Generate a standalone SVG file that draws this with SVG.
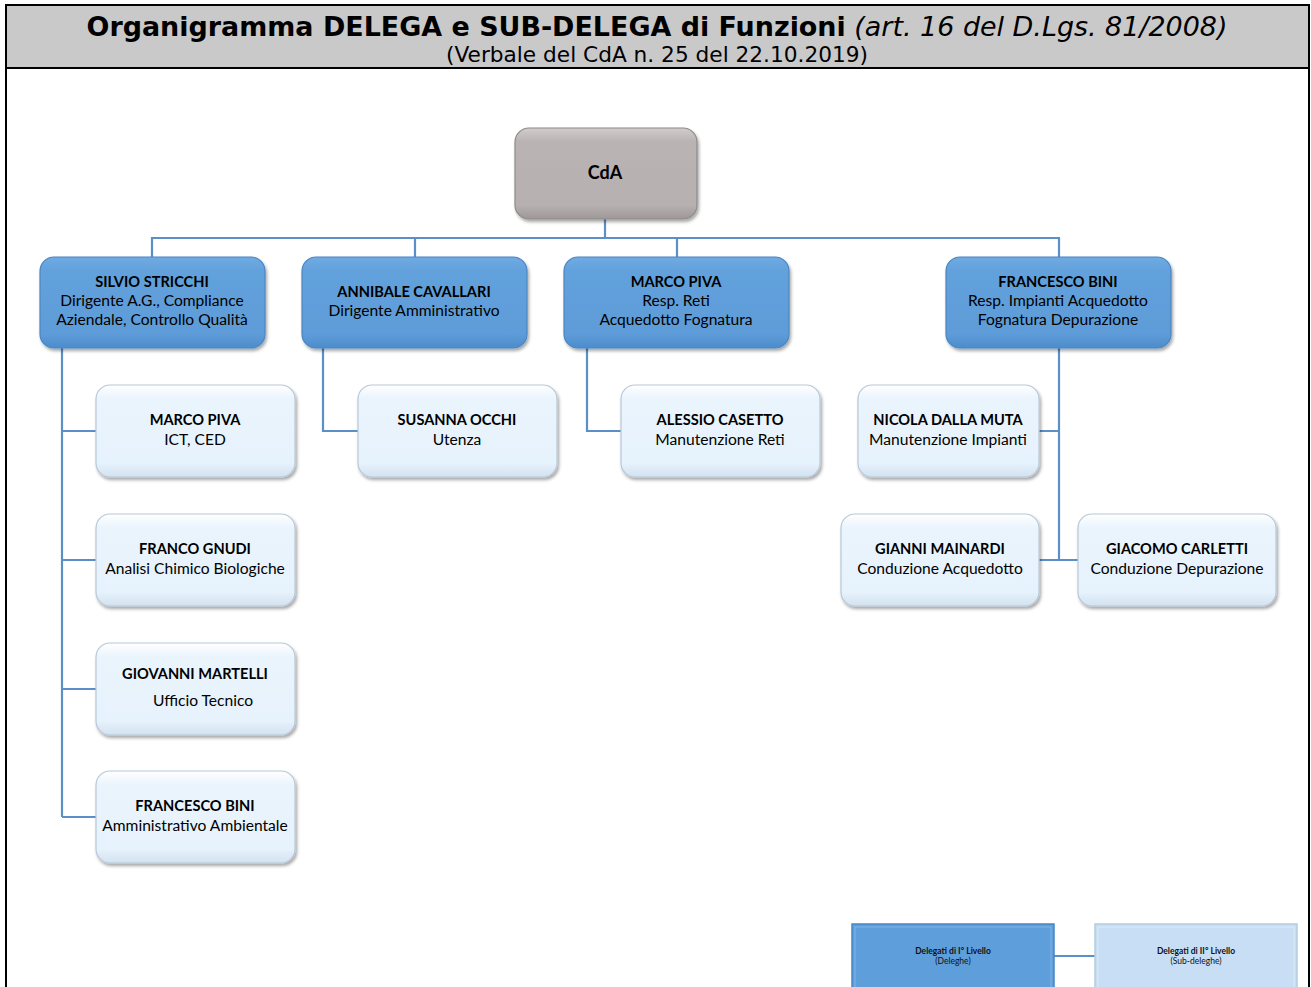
<svg xmlns="http://www.w3.org/2000/svg" width="1311" height="987" viewBox="0 0 1311 987">
<style>
.t{font-family:Lato,"Open Sans","Liberation Sans",sans-serif;font-size:15.6px;fill:#000;text-anchor:middle}
.b{font-weight:bold;font-size:14.6px}
.l1{fill:url(#gBlue);stroke:#4a86c4;stroke-width:1.2}
.l2{fill:url(#gLight);stroke:#b8c8d8;stroke-width:1.2}
.cn{stroke:#5b8fc7;stroke-width:2.2;fill:none}
.lg{font-family:Lato,"Open Sans","Liberation Sans",sans-serif;font-size:8.5px;fill:#111;text-anchor:middle}
</style>
<defs>
<linearGradient id="gBlue" x1="0" y1="0" x2="0" y2="1">
<stop offset="0" stop-color="#6fabe3"/><stop offset="0.15" stop-color="#62a1dc"/><stop offset="0.85" stop-color="#5d9cd8"/><stop offset="1" stop-color="#4d8ccb"/>
</linearGradient>
<linearGradient id="gLight" x1="0" y1="0" x2="0" y2="1">
<stop offset="0" stop-color="#ffffff"/><stop offset="0.15" stop-color="#eaf4fd"/><stop offset="0.85" stop-color="#e6f2fc"/><stop offset="1" stop-color="#d3e2f0"/>
</linearGradient>
<linearGradient id="gGray" x1="0" y1="0" x2="0" y2="1">
<stop offset="0" stop-color="#d2cdcd"/><stop offset="0.15" stop-color="#b9b3b3"/><stop offset="0.85" stop-color="#b6b0b0"/><stop offset="1" stop-color="#9e9797"/>
</linearGradient>
<filter id="sh" x="-10%" y="-10%" width="125%" height="130%">
<feDropShadow dx="1.5" dy="2.5" stdDeviation="1.5" flood-color="#000" flood-opacity="0.35"/>
</filter>
</defs>

<g id="header">
<rect x="6" y="5" width="1303" height="63" fill="#c9c9c9"/>
<path d="M6,987 V5 H1309 V987 M6,68 H1309" fill="none" stroke="#000" stroke-width="2"/>
<text x="657" y="36" text-anchor="middle" font-family="'DejaVu Sans',Verdana,sans-serif" font-size="27" fill="#000" textLength="1141" lengthAdjust="spacingAndGlyphs"><tspan font-weight="bold">Organigramma DELEGA e SUB-DELEGA di Funzioni</tspan> <tspan font-style="italic">(art. 16 del D.Lgs. 81/2008)</tspan></text>
<text x="657" y="62" text-anchor="middle" font-family="'DejaVu Sans',Verdana,sans-serif" font-size="20.5" fill="#000" textLength="422" lengthAdjust="spacingAndGlyphs">(Verbale del CdA n. 25 del 22.10.2019)</text>
</g>

<g id="connectors">
<path class="cn" d="M605,219 V238 M152,257 V238 H1059 V257 M415,238 V257 M677,238 V257"/>
<path class="cn" d="M62,348 V817 M62,431 H96 M62,560 H96 M62,689 H96 M62,817 H96"/>
<path class="cn" d="M323,348 V431 H358"/>
<path class="cn" d="M587,348 V431 H621"/>
<path class="cn" d="M1059,348 V560 M1039,431 H1059 M1039,560 H1078"/>
<path class="cn" d="M1054,956 H1095"/>
</g>

<g id="cda">
<rect x="515" y="128" width="182" height="91" rx="14" fill="url(#gGray)" stroke="#8f8a8a" stroke-width="1.2" filter="url(#sh)"/>
<text class="t b" x="605" y="179" style="font-size:18px">CdA</text>
</g>

<g id="silvio">
<rect class="l1" x="40" y="257" width="225" height="91" rx="14" filter="url(#sh)"/>
<text class="t b" x="152" y="287">SILVIO STRICCHI</text>
<text class="t" x="152" y="306">Dirigente A.G., Compliance</text>
<text class="t" x="152" y="325">Aziendale, Controllo Qualità</text>
</g>
<g id="annibale">
<rect class="l1" x="302" y="257" width="225" height="91" rx="14" filter="url(#sh)"/>
<text class="t b" x="414" y="297">ANNIBALE CAVALLARI</text>
<text class="t" x="414" y="316">Dirigente Amministrativo</text>
</g>
<g id="marco1">
<rect class="l1" x="564" y="257" width="225" height="91" rx="14" filter="url(#sh)"/>
<text class="t b" x="676" y="287">MARCO PIVA</text>
<text class="t" x="676" y="306">Resp. Reti</text>
<text class="t" x="676" y="325">Acquedotto Fognatura</text>
</g>
<g id="francesco1">
<rect class="l1" x="946" y="257" width="225" height="91" rx="14" filter="url(#sh)"/>
<text class="t b" x="1058" y="287">FRANCESCO BINI</text>
<text class="t" x="1058" y="306">Resp. Impianti Acquedotto</text>
<text class="t" x="1058" y="325">Fognatura Depurazione</text>
</g>

<g id="marco2">
<rect class="l2" x="96" y="385" width="199" height="92" rx="14" filter="url(#sh)"/>
<text class="t b" x="195" y="425">MARCO PIVA</text>
<text class="t" x="195" y="445">ICT, CED</text>
</g>
<g id="franco">
<rect class="l2" x="96" y="514" width="199" height="92" rx="14" filter="url(#sh)"/>
<text class="t b" x="195" y="554">FRANCO GNUDI</text>
<text class="t" x="195" y="574">Analisi Chimico Biologiche</text>
</g>
<g id="giovanni">
<rect class="l2" x="96" y="643" width="199" height="92" rx="14" filter="url(#sh)"/>
<text class="t b" x="195" y="679">GIOVANNI MARTELLI</text>
<text class="t" x="203" y="706">Ufficio Tecnico</text>
</g>
<g id="francesco2">
<rect class="l2" x="96" y="771" width="199" height="92" rx="14" filter="url(#sh)"/>
<text class="t b" x="195" y="811">FRANCESCO BINI</text>
<text class="t" x="195" y="831">Amministrativo Ambientale</text>
</g>
<g id="susanna">
<rect class="l2" x="358" y="385" width="199" height="92" rx="14" filter="url(#sh)"/>
<text class="t b" x="457" y="425">SUSANNA OCCHI</text>
<text class="t" x="457" y="445">Utenza</text>
</g>
<g id="alessio">
<rect class="l2" x="621" y="385" width="199" height="92" rx="14" filter="url(#sh)"/>
<text class="t b" x="720" y="425">ALESSIO CASETTO</text>
<text class="t" x="720" y="445">Manutenzione Reti</text>
</g>
<g id="nicola">
<rect class="l2" x="858" y="385" width="181" height="92" rx="14" filter="url(#sh)"/>
<text class="t b" x="948" y="425">NICOLA DALLA MUTA</text>
<text class="t" x="948" y="445">Manutenzione Impianti</text>
</g>
<g id="gianni">
<rect class="l2" x="841" y="514" width="198" height="92" rx="14" filter="url(#sh)"/>
<text class="t b" x="940" y="554">GIANNI MAINARDI</text>
<text class="t" x="940" y="574">Conduzione Acquedotto</text>
</g>
<g id="giacomo">
<rect class="l2" x="1078" y="514" width="198" height="92" rx="14" filter="url(#sh)"/>
<text class="t b" x="1177" y="554">GIACOMO CARLETTI</text>
<text class="t" x="1177" y="574">Conduzione Depurazione</text>
</g>

<g id="legend1">
<rect x="852" y="924" width="202" height="70" fill="#5e9edb" stroke="#4a86c4" stroke-width="1.5"/>
<rect x="855" y="927" width="196" height="64" fill="none" stroke="#7fb5e8" stroke-width="1"/>
<text class="lg b" x="953" y="954" style="font-size:8.5px">Delegati di I° Livello</text>
<text class="lg" x="953" y="964">(Deleghe)</text>
</g>
<g id="legend2">
<rect x="1095" y="924" width="202" height="70" fill="#c7def4" stroke="#b5cbe0" stroke-width="1.5"/>
<rect x="1098" y="927" width="196" height="64" fill="none" stroke="#dceaf7" stroke-width="1"/>
<text class="lg b" x="1196" y="954" style="font-size:8.5px">Delegati di II° Livello</text>
<text class="lg" x="1196" y="964">(Sub-deleghe)</text>
</g>
</svg>
